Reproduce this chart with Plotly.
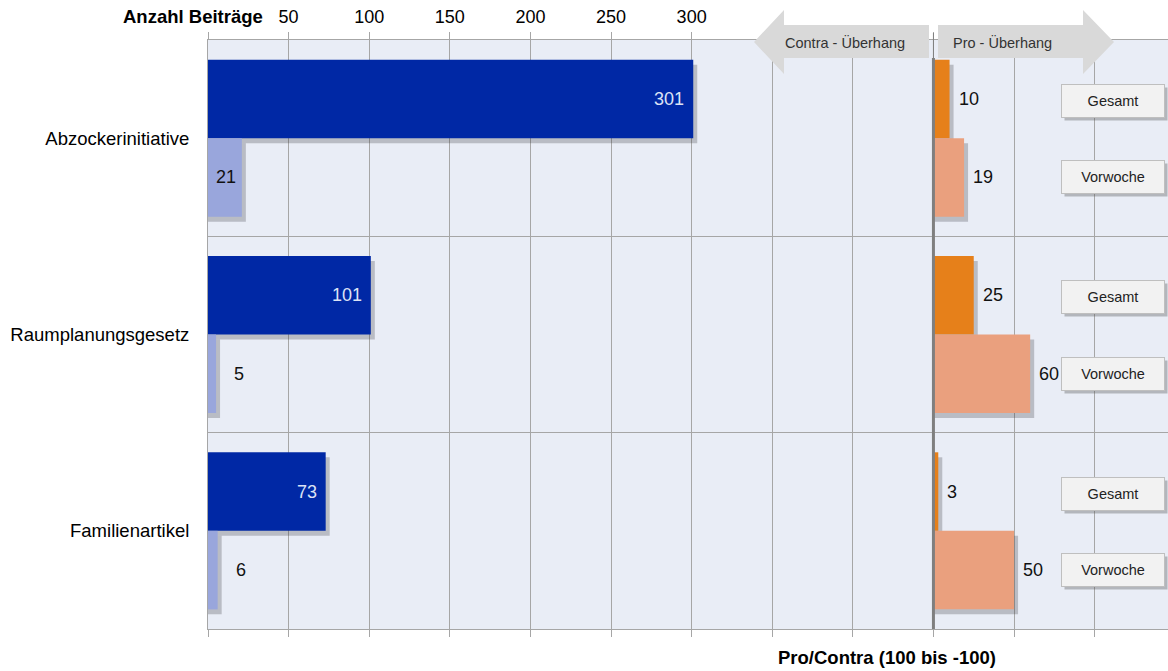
import plotly.graph_objects as go

categories = ["Abzockerinitiative", "Raumplanungsgesetz", "Familienartikel"]
beitraege_gesamt = [301, 101, 73]
beitraege_vorwoche = [21, 5, 6]
pro_gesamt = [10, 25, 3]
pro_vorwoche = [19, 60, 50]
tick_values = [0, 50, 100, 150, 200, 250, 300, 350, 400, 450, 500, 550]
tick_labels = ["", "50", "100", "150", "200", "250", "300", "", "", "", "", ""]
PRO_BASE = 450

FONT = "Liberation Sans, Arial, sans-serif"
DARK = "#0028A5"
LIGHT = "#99A6DC"
ORANGE = "#E6801A"
SALMON = "#EAA07E"
GRID = "#A6A6A6"
XMAX = 595.5
PX = 960 / XMAX  # pixels per unit

ypos = list(range(len(categories)))
y_dark = [i - 0.2 for i in ypos]
y_light = [i + 0.2 for i in ypos]
sx = 4 / PX
sy = 5 / 196.3

fig = go.Figure()

def shadow(xv, yv, base=None):
    fig.add_trace(go.Bar(x=[v + sx for v in xv], y=[y + sy for y in yv], base=base,
                         orientation="h", width=0.4,
                         marker=dict(color="rgba(60,60,70,0.28)", line_width=0),
                         hoverinfo="skip", showlegend=False))

shadow(beitraege_gesamt, y_dark)
shadow(beitraege_vorwoche, y_light)
shadow(pro_gesamt, y_dark, PRO_BASE)
shadow(pro_vorwoche, y_light, PRO_BASE)

fig.add_trace(go.Bar(x=beitraege_gesamt, y=y_dark, orientation="h", width=0.4,
                     marker=dict(color=DARK, line_width=0), name="Gesamt"))
fig.add_trace(go.Bar(x=beitraege_vorwoche, y=y_light, orientation="h", width=0.4,
                     marker=dict(color=LIGHT, line_width=0), name="Vorwoche"))
fig.add_trace(go.Bar(x=pro_gesamt, y=y_dark, base=PRO_BASE, orientation="h", width=0.4,
                     marker=dict(color=ORANGE, line_width=0), name="Pro Gesamt"))
fig.add_trace(go.Bar(x=pro_vorwoche, y=y_light, base=PRO_BASE, orientation="h", width=0.4,
                     marker=dict(color=SALMON, line_width=0), name="Pro Vorwoche"))

ann = []
for v, y in zip(beitraege_gesamt, y_dark):
    ann.append(dict(x=v, y=y, text=str(v), xanchor="right", yanchor="middle", xshift=-7,
                    showarrow=False, font=dict(size=18, color="#DCE2F5", family=FONT)))
for v, y in zip(beitraege_vorwoche, y_light):
    inside = v * PX > 30
    ann.append(dict(x=v, y=y, text=str(v), xanchor="right" if inside else "left",
                    yanchor="middle", xshift=-4 if inside else 16, showarrow=False,
                    font=dict(size=18, color="#111111", family=FONT)))
for vals, ys in ((pro_gesamt, y_dark), (pro_vorwoche, y_light)):
    for v, y in zip(vals, ys):
        ann.append(dict(x=PRO_BASE + v, y=y, text=str(v), xanchor="left", yanchor="middle",
                        xshift=7, showarrow=False,
                        font=dict(size=18, color="#111111", family=FONT)))

# buttons
BTN_X = (1113 - 208) / PX
for i in ypos:
    for label, yy in (("Gesamt", i - 0.19), ("Vorwoche", i + 0.2)):
        ann.append(dict(x=BTN_X, y=yy, text=" ", showarrow=False, xshift=3, yshift=-3,
                        yanchor="middle", width=100, height=30, bgcolor="rgba(80,80,80,0.35)"))
        ann.append(dict(x=BTN_X, y=yy, text=label, showarrow=False, width=100, height=30,
                        yanchor="middle", bgcolor="#F2F2F2", bordercolor="#BFBFBF", borderwidth=1,
                        font=dict(size=14.5, color="#222222", family=FONT)))

ann.append(dict(xref="paper", yref="paper", x=57 / 960, y=1 + 23 / 589, text="<b>Anzahl Beiträge</b>",
                xanchor="right", yanchor="middle", showarrow=False,
                font=dict(size=18.5, color="#000000", family=FONT)))
ann.append(dict(xref="paper", yref="paper", x=(887 - 208) / 960, y=-28 / 589,
                text="<b>Pro/Contra (100 bis -100)</b>", xanchor="center", yanchor="middle",
                showarrow=False, font=dict(size=18.5, color="#000000", family=FONT)))
ann.append(dict(x=(845 - 208) / PX, yref="paper", y=1 - 2 / 589, text="Contra - Überhang",
                xanchor="center", yanchor="middle", showarrow=False,
                font=dict(size=14.5, color="#333333", family=FONT)))
ann.append(dict(x=(1002 - 208) / PX, yref="paper", y=1 - 2 / 589, text="Pro - Überhang",
                xanchor="center", yanchor="middle", showarrow=False,
                font=dict(size=14.5, color="#333333", family=FONT)))

def X(px):
    return (px - 208) / PX

def Y(py):
    return 1 + (40 - py) / 589

contra = (f"M {X(754)} {Y(42)} L {X(784)} {Y(10)} L {X(784)} {Y(25)} L {X(929)} {Y(25)} "
          f"L {X(929)} {Y(58)} L {X(784)} {Y(58)} L {X(784)} {Y(74)} Z")
pro = (f"M {X(1114)} {Y(42)} L {X(1083)} {Y(10)} L {X(1083)} {Y(25)} L {X(938)} {Y(25)} "
       f"L {X(938)} {Y(58)} L {X(1083)} {Y(58)} L {X(1083)} {Y(74)} Z")

shapes = [
    dict(type="line", x0=PRO_BASE, x1=PRO_BASE, yref="paper", y0=0, y1=Y(58),
         line=dict(color="#7F7F7F", width=3), layer="above"),
    dict(type="line", x0=PRO_BASE, x1=PRO_BASE, yref="paper", y0=Y(58), y1=Y(33),
         line=dict(color="#7F7F7F", width=1), layer="above"),
    dict(type="path", path=contra, yref="paper", fillcolor="#D9D9D9", line_width=0, layer="above"),
    dict(type="path", path=pro, yref="paper", fillcolor="#D9D9D9", line_width=0, layer="above"),
]

fig.update_layout(
    width=1168, height=671,
    margin=dict(l=208, r=0, t=40, b=42),
    paper_bgcolor="white", plot_bgcolor="#E9EDF6",
    barmode="overlay", showlegend=False,
    font=dict(family=FONT, size=18, color="#000000"),
    annotations=ann, shapes=shapes,
    xaxis=dict(range=[0, XMAX], side="top", tickvals=tick_values, ticktext=tick_labels,
               showgrid=True, gridcolor=GRID, gridwidth=1, zeroline=False,
               showline=True, linecolor=GRID, linewidth=1, mirror="allticks",
               ticks="outside", ticklen=7, tickcolor=GRID, ticklabelstandoff=2,
               tickfont=dict(size=18, color="#000000", family=FONT)),
    yaxis=dict(range=[2.5, -0.5], tickvals=ypos, ticktext=categories, showgrid=False,
               zeroline=False, showline=True, linecolor=GRID, linewidth=1,
               ticks="outside", ticklen=14, tickcolor="rgba(0,0,0,0)",
               tickfont=dict(size=18.5, color="#000000", family=FONT),
               minor=dict(tickvals=[0.5, 1.5], showgrid=True, gridcolor=GRID, gridwidth=1, ticks="")),
)

fig.write_html("out.html")
